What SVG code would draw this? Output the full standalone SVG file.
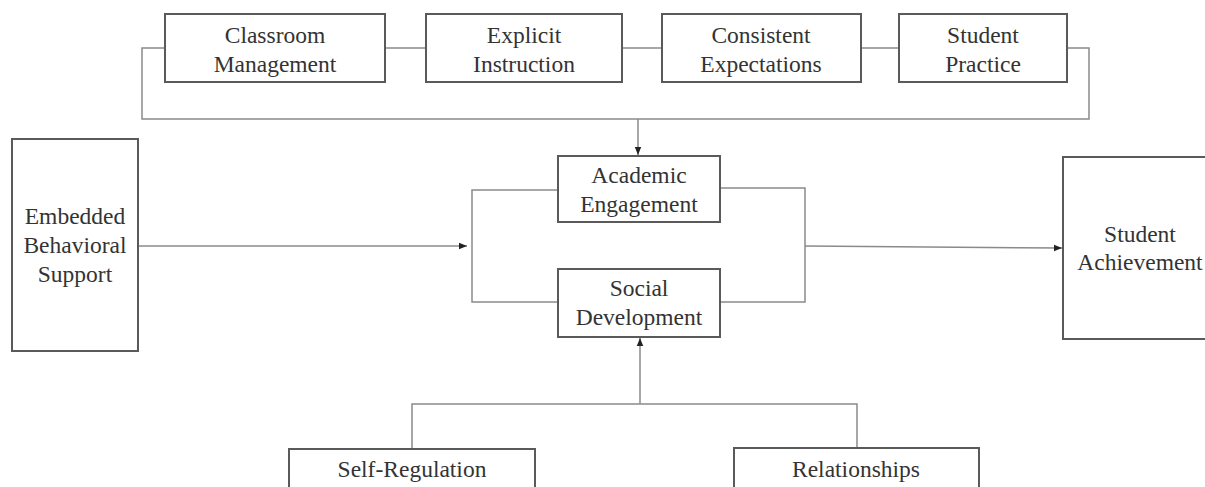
<svg xmlns="http://www.w3.org/2000/svg" width="1205" height="487" viewBox="0 0 1205 487">
<style>
.box{fill:#fff;stroke:#5a5a5a;stroke-width:2}
.t{font-size:23.5px;fill:#333;text-anchor:middle}
.c{fill:none;stroke:#8a8a8a;stroke-width:1.5}
</style>
<defs>
<marker id="ah" viewBox="0 0 10 10" refX="10" refY="5" markerWidth="8" markerHeight="8" markerUnits="userSpaceOnUse" orient="auto">
<path d="M0,1 L10,5 L0,9 Z" fill="#222"/>
</marker>
</defs>
<rect width="1205" height="487" fill="#fff"/>
<g id="connectors">
<path class="c" d="M165,48 H142 V119 H1089 V48 H1067"/>
<path class="c" d="M385,48 H426"/>
<path class="c" d="M622,48 H662"/>
<path class="c" d="M861,48 H899"/>
<path class="c" d="M638,119 V155" marker-end="url(#ah)"/>
<path class="c" d="M138,246 H467" marker-end="url(#ah)"/>
<path class="c" d="M558,190 H472 V302 H558"/>
<path class="c" d="M720,188 H805 V302 H720"/>
<path class="c" d="M805,246 L1062,248" marker-end="url(#ah)"/>
<path class="c" d="M412,449 V404 H857 V448"/>
<path class="c" d="M640,404 V338" marker-end="url(#ah)"/>
</g>
<g font-family="Liberation Serif, Times New Roman, serif">
<g id="classroom">
<rect class="box" x="165" y="14" width="220" height="68"/>
<text class="t" x="275" y="43">Classroom</text>
<text class="t" x="275" y="72">Management</text>
</g>
<g id="explicit">
<rect class="box" x="426" y="14" width="196" height="68"/>
<text class="t" x="524" y="43">Explicit</text>
<text class="t" x="524" y="72">Instruction</text>
</g>
<g id="consistent">
<rect class="box" x="662" y="14" width="199" height="68"/>
<text class="t" x="761" y="43">Consistent</text>
<text class="t" x="761" y="72">Expectations</text>
</g>
<g id="practice">
<rect class="box" x="899" y="14" width="168" height="68"/>
<text class="t" x="983" y="43">Student</text>
<text class="t" x="983" y="72">Practice</text>
</g>
<g id="embedded">
<rect class="box" x="12" y="139" width="126" height="212"/>
<text class="t" x="75" y="224">Embedded</text>
<text class="t" x="75" y="253">Behavioral</text>
<text class="t" x="75" y="282">Support</text>
</g>
<g id="academic">
<rect class="box" x="558" y="156" width="162" height="66"/>
<text class="t" x="639" y="183">Academic</text>
<text class="t" x="639" y="212">Engagement</text>
</g>
<g id="social">
<rect class="box" x="558" y="269" width="162" height="68"/>
<text class="t" x="639" y="296">Social</text>
<text class="t" x="639" y="325">Development</text>
</g>
<g id="achievement">
<rect class="box" x="1063" y="157" width="160" height="182"/>
<text class="t" x="1140" y="242">Student</text>
<text class="t" x="1140" y="270">Achievement</text>
</g>
<g id="selfreg">
<rect class="box" x="289" y="449" width="246" height="60"/>
<text class="t" x="412" y="477">Self-Regulation</text>
</g>
<g id="relationships">
<rect class="box" x="734" y="448" width="245" height="60"/>
<text class="t" x="856" y="477">Relationships</text>
</g>
</g>
</svg>
